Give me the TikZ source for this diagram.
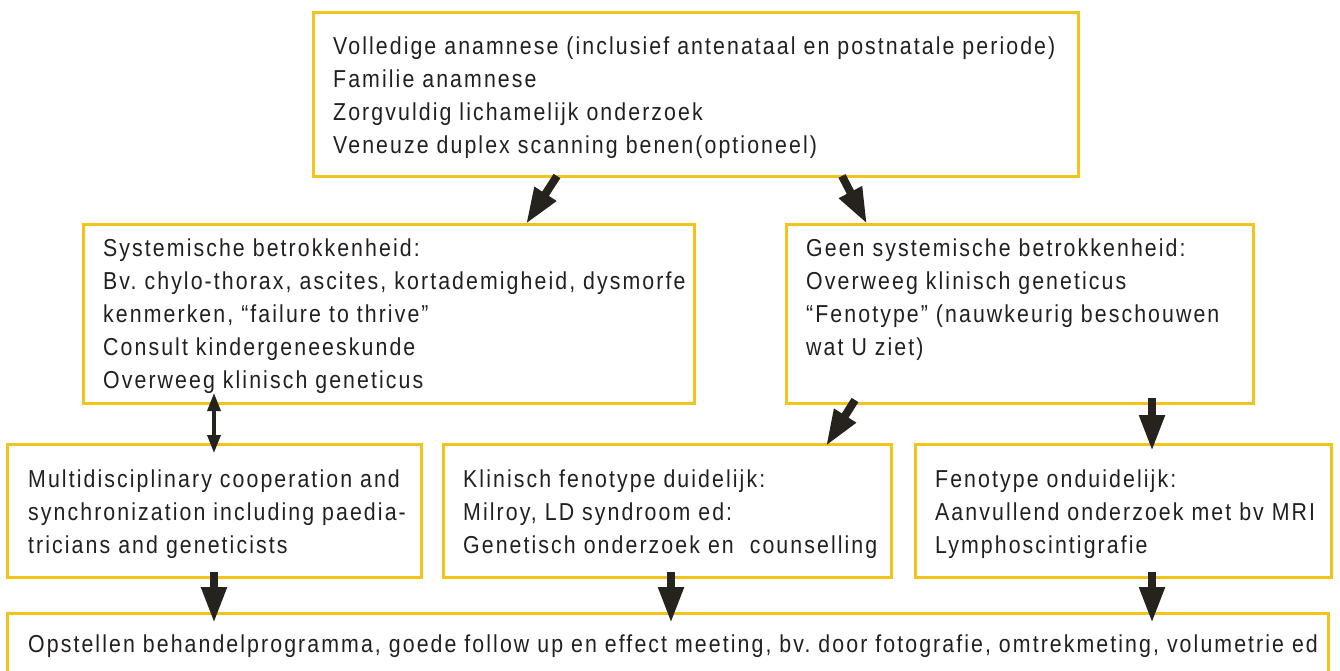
\documentclass[tikz,border=0pt]{standalone}
\usepackage{fontspec}
\setmainfont{Liberation Sans}[FakeStretch=0.87,LetterSpace=8.5]
\usetikzlibrary{arrows.meta}
\definecolor{gold}{HTML}{F2C318}
\definecolor{ink}{HTML}{231F20}
\definecolor{arr}{HTML}{26221E}
\tikzset{
 box/.style={draw=gold,line width=3pt,anchor=north west,inner sep=0pt,outer sep=0pt},
 txt/.style={anchor=north west,inner sep=0pt,align=left,text=ink,font=\fontsize{24.5pt}{33pt}\selectfont},
 bigarrow/.style={draw=arr,line width=8pt,-{Triangle[length=36pt,width=24pt]}},
 dblarrow/.style={draw=arr,line width=3.5pt,{Triangle[length=18pt,width=13pt]}-{Triangle[length=18pt,width=13pt]}},
}
\newcommand{\fl}{\rule{0pt}{22pt}}
\frenchspacing
\begin{document}
\begin{tikzpicture}[x=1pt,y=-1pt]
\useasboundingbox (0,0) rectangle (1340,671);
\clip (0,0) rectangle (1340,671);
% boxes
\node[box,minimum width=765pt,minimum height=164pt] (top) at (313,13) {};
\node[box,minimum width=611pt,minimum height=179pt] (sysL) at (83,224) {};
\node[box,minimum width=467pt,minimum height=179pt] (sysR) at (786,224) {};
\node[box,minimum width=414pt,minimum height=133pt] (multi) at (7,444) {};
\node[box,minimum width=448pt,minimum height=133pt] (klin) at (443,444) {};
\node[box,minimum width=416pt,minimum height=133pt] (feno) at (915,444) {};
\node[box,minimum width=1321pt,minimum height=120pt] (plan) at (7,613) {};
% texts
\node[txt] (topT) at (333,32) {\fl Volledige anamnese (inclusief antenataal en postnatale periode)\\
Familie anamnese\\
Zorgvuldig lichamelijk onderzoek\\
Veneuze duplex scanning benen(optioneel)};
\node[txt] (sysLT) at (103,234) {\fl Systemische betrokkenheid:\\
Bv. chylo-thorax, ascites, kortademigheid, dysmorfe\\
kenmerken, “failure to thrive”\\
Consult kindergeneeskunde\\
Overweeg klinisch geneticus};
\node[txt] (sysRT) at (806,234) {\fl Geen systemische betrokkenheid:\\
Overweeg klinisch geneticus\\
“Fenotype” (nauwkeurig beschouwen\\
wat U ziet)};
\node[txt] (multiT) at (28,465) {\fl Multidisciplinary cooperation and\\
synchronization including paedia-\\
tricians and geneticists};
\node[txt] (klinT) at (463,465) {\fl Klinisch fenotype duidelijk:\\
Milroy, LD syndroom ed:\\
Genetisch onderzoek en\ \ counselling};
\node[txt] (fenoT) at (935,465) {\fl Fenotype onduidelijk:\\
Aanvullend onderzoek met bv MRI\\
Lymphoscintigrafie};
\node[txt] (planT) at (28,630) {\fl Opstellen behandelprogramma, goede follow up en effect meeting, bv. door fotografie, omtrekmeting, volumetrie ed};
% connector ends
\coordinate (a1s) at (557,176); \coordinate (a1e) at (526,224);
\coordinate (a2s) at (842,176); \coordinate (a2e) at (867,224);
\coordinate (d1s) at (214,393); \coordinate (d1e) at (214,453);
\coordinate (a3s) at (855,400); \coordinate (a3e) at (826,446);
\coordinate (a4s) at (1152,398); \coordinate (a4e) at (1152,451);
\coordinate (a5s) at (214,572); \coordinate (a5e) at (214,623);
\coordinate (a6s) at (671,572); \coordinate (a6e) at (671,623);
\coordinate (a7s) at (1152,572); \coordinate (a7e) at (1152,623);
% arrows
\draw[bigarrow] (a1s) -- (a1e);
\draw[bigarrow] (a2s) -- (a2e);
\draw[dblarrow] (d1s) -- (d1e);
\draw[bigarrow] (a3s) -- (a3e);
\draw[bigarrow] (a4s) -- (a4e);
\draw[bigarrow] (a5s) -- (a5e);
\draw[bigarrow] (a6s) -- (a6e);
\draw[bigarrow] (a7s) -- (a7e);
\end{tikzpicture}
\end{document}
